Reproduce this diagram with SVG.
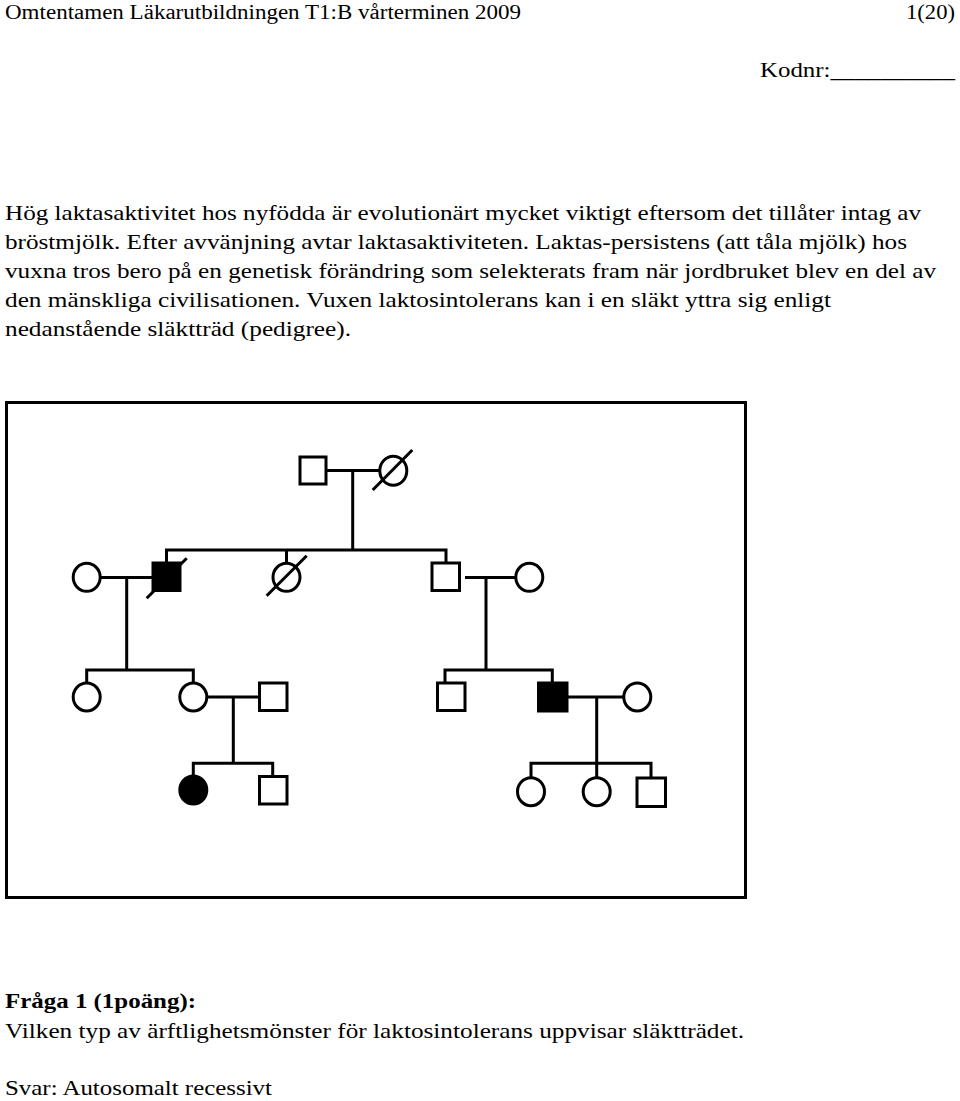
<svg xmlns="http://www.w3.org/2000/svg" width="960" height="1101" viewBox="0 0 960 1101">
<style>
text{font-family:"Liberation Serif","Times New Roman",serif;fill:#000}
.t{font-size:22px}
.h{font-size:20px}
.b{font-weight:bold}
.ln{stroke:#000;stroke-width:3;fill:none}
.o{stroke:#000;stroke-width:3;fill:#fff}
.f{stroke:#000;stroke-width:3;fill:#000}
.sl{stroke:#000;stroke-width:3}
</style>
<rect width="960" height="1101" fill="#fff"/>
<g id="header">
<text class="h" x="5" y="19" textLength="516" lengthAdjust="spacingAndGlyphs">Omtentamen Läkarutbildningen T1:B vårterminen 2009</text>
<text class="h" x="906" y="19" textLength="49" lengthAdjust="spacingAndGlyphs">1(20)</text>
<text class="h" x="760" y="77" textLength="195" lengthAdjust="spacingAndGlyphs">Kodnr:__________</text>
</g>
<g id="intro" class="t">
<text x="5" y="220" textLength="916" lengthAdjust="spacingAndGlyphs">Hög laktasaktivitet hos nyfödda är evolutionärt mycket viktigt eftersom det tillåter intag av</text>
<text x="5" y="249" textLength="902" lengthAdjust="spacingAndGlyphs">bröstmjölk. Efter avvänjning avtar laktasaktiviteten. Laktas-persistens (att tåla mjölk) hos</text>
<text x="5" y="278" textLength="931" lengthAdjust="spacingAndGlyphs">vuxna tros bero på en genetisk förändring som selekterats fram när jordbruket blev en del av</text>
<text x="5" y="307" textLength="826" lengthAdjust="spacingAndGlyphs">den mänskliga civilisationen. Vuxen laktosintolerans kan i en släkt yttra sig enligt</text>
<text x="5" y="336" textLength="346" lengthAdjust="spacingAndGlyphs">nedanstående släktträd (pedigree).</text>
</g>
<rect id="frame" x="6.5" y="402.5" width="739" height="495" fill="none" stroke="#000" stroke-width="3"/>
<g id="connectors" class="ln">
<path d="M327 470.5H379M352.7 470.5V550"/>
<path d="M166.5 562V550H446V562M286.5 550V563"/>
<path d="M100 577.5H152M126.7 577.5V670"/>
<path d="M465 577.5H515M486 577.5V670"/>
<path d="M86.7 683V670H193.3V683"/>
<path d="M445 683V670H552.3V683"/>
<path d="M207 697H259M233.3 697V763.3"/>
<path d="M193.3 776V763.3H272.7V776"/>
<path d="M567 697H623M596.7 697V763.3"/>
<path d="M531 778V763.3H651V778M596.7 763.3V778"/>
</g>
<g id="I-1"><rect class="o" x="300" y="457" width="26" height="27"/></g>
<g id="I-2"><ellipse class="o" cx="393.3" cy="470.7" rx="13.5" ry="14.5"/><line class="sl" x1="372.7" y1="490" x2="412.3" y2="450"/></g>
<g id="II-1"><ellipse class="o" cx="86.7" cy="577.3" rx="13.5" ry="14"/></g>
<g id="II-2"><rect class="f" x="153" y="563" width="27" height="27.5"/><line class="sl" x1="146.7" y1="598.3" x2="186.7" y2="558.3"/></g>
<g id="II-3"><ellipse class="o" cx="286.5" cy="577.3" rx="13.5" ry="14"/><line class="sl" x1="266.7" y1="595.7" x2="306.7" y2="555.7"/></g>
<g id="II-4"><rect class="o" x="432" y="563" width="27.5" height="27.5"/></g>
<g id="II-5"><ellipse class="o" cx="529.3" cy="577.3" rx="13.5" ry="14"/></g>
<g id="III-1"><ellipse class="o" cx="86.7" cy="697" rx="13.5" ry="14"/></g>
<g id="III-2"><ellipse class="o" cx="193.3" cy="697" rx="13.5" ry="14"/></g>
<g id="III-3"><rect class="o" x="259.5" y="683" width="27.5" height="27.5"/></g>
<g id="III-4"><rect class="o" x="437.5" y="683" width="27.5" height="27.5"/></g>
<g id="III-5"><rect class="f" x="538.5" y="683" width="28.5" height="28"/></g>
<g id="III-6"><ellipse class="o" cx="637.3" cy="697" rx="13.5" ry="14"/></g>
<g id="IV-1"><ellipse class="f" cx="193.3" cy="790" rx="13.5" ry="14"/></g>
<g id="IV-2"><rect class="o" x="259.5" y="776.5" width="27.5" height="27.5"/></g>
<g id="IV-3"><ellipse class="o" cx="531" cy="791.7" rx="13.5" ry="14"/></g>
<g id="IV-4"><ellipse class="o" cx="596.7" cy="791.7" rx="13.5" ry="14"/></g>
<g id="IV-5"><rect class="o" x="637" y="778" width="28.5" height="28.5"/></g>
<g id="question">
<text class="t b" x="5" y="1008" textLength="191" lengthAdjust="spacingAndGlyphs">Fråga 1 (1poäng):</text>
<text class="t" x="5" y="1038" textLength="739" lengthAdjust="spacingAndGlyphs">Vilken typ av ärftlighetsmönster för laktosintolerans uppvisar släktträdet.</text>
<text class="t" x="5" y="1095" textLength="267" lengthAdjust="spacingAndGlyphs">Svar: Autosomalt recessivt</text>
</g>
</svg>
